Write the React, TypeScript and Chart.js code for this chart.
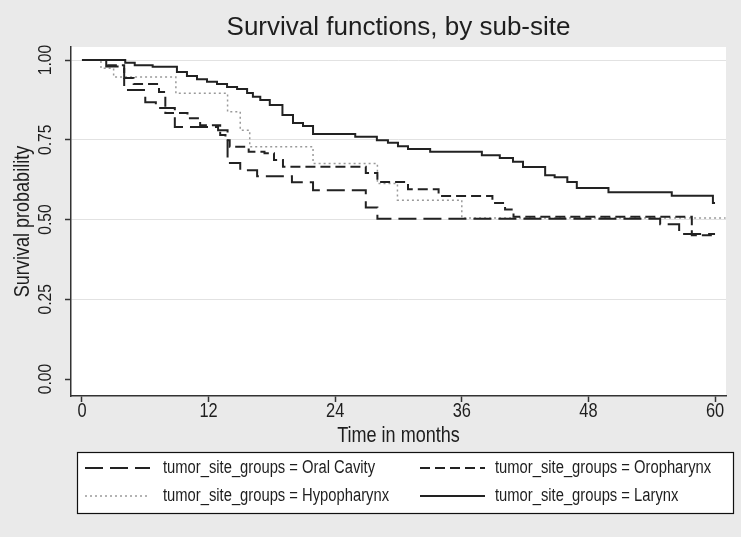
import React, { useEffect, useRef } from "react";
import { Chart, registerables } from "chart.js";

Chart.register(...registerables);

const chartTitle = "Survival functions, by sub-site";
const xTitle = "Time in months";
const yTitle = "Survival probability";
const xTickValues = [0, 12, 24, 36, 48, 60];
const yTickValues = [0, 0.25, 0.5, 0.75, 1.0];

const seriesNames = [
  "tumor_site_groups = Oral Cavity",
  "tumor_site_groups = Oropharynx",
  "tumor_site_groups = Hypopharynx",
  "tumor_site_groups = Larynx",
];

const oralTimes = [0, 2.3, 4.0, 6.0, 7.0, 8.8, 12.9, 13.8, 15.0, 16.6, 19.9, 21.9, 26.9, 28.0, 54.8, 56.6, 60];
const oralSurv = [1, 0.98, 0.906, 0.868, 0.85, 0.79, 0.78, 0.677, 0.655, 0.636, 0.617, 0.592, 0.538, 0.503, 0.485, 0.455, 0.455];

const oroTimes = [0, 2.4, 4.0, 4.9, 7.3, 7.9, 10.0, 11.2, 13.1, 13.6, 14.0, 15.8, 17.3, 18.2, 19.05, 26.9, 28.0, 30.9, 33.8, 38.9, 40.1, 40.9, 57.8, 60];
const oroSurv = [1, 0.984, 0.944, 0.925, 0.9, 0.834, 0.818, 0.796, 0.765, 0.749, 0.728, 0.713, 0.708, 0.687, 0.666, 0.646, 0.618, 0.595, 0.574, 0.552, 0.532, 0.509, 0.451, 0.451];

const hypoTimes = [0, 1.8, 3.0, 8.9, 13.8, 15.0, 15.9, 21.9, 28.0, 29.9, 36.0, 61];
const hypoSurv = [1, 0.974, 0.947, 0.896, 0.838, 0.78, 0.728, 0.676, 0.613, 0.561, 0.505, 0.505];

const larynxTimes = [0, 4.1, 5.0, 6.7, 9.0, 9.95, 10.9, 11.85, 12.8, 13.75, 14.7, 15.65, 16.2, 16.9, 17.8, 19.0, 20.0, 20.95, 21.9, 25.9, 27.95, 29.0, 29.95, 30.9, 33.0, 37.9, 39.6, 40.85, 41.8, 43.9, 44.8, 46.0, 46.9, 49.9, 55.9, 59.8, 60];
const larynxSurv = [1, 0.992, 0.984, 0.979, 0.963, 0.95, 0.94, 0.932, 0.925, 0.916, 0.909, 0.897, 0.885, 0.875, 0.859, 0.828, 0.803, 0.793, 0.768, 0.76, 0.749, 0.741, 0.73, 0.721, 0.713, 0.702, 0.693, 0.681, 0.665, 0.639, 0.633, 0.618, 0.599, 0.586, 0.575, 0.552, 0.552];

const FONT = "'Liberation Sans', Arial, sans-serif";
const NARROW_SCALE = 0.82;
const BG = "#eaeaea";
const INK = "#1e1e1e";

const styles = [
  { color: "#222222", width: 2, dash: [18, 7] },
  { color: "#222222", width: 2, dash: [10, 5] },
  { color: "#9a9a9a", width: 1.5, dash: [2, 3] },
  { color: "#222222", width: 2, dash: [] as number[] },
];

const toPoints = (t: number[], s: number[]) => t.map((x, i) => ({ x, y: s[i] }));

function narrowText(ctx: CanvasRenderingContext2D, text: string, x: number, y: number, size: number, align: CanvasTextAlign, rot = 0) {
  ctx.save();
  ctx.translate(x, y);
  if (rot) ctx.rotate(rot);
  ctx.scale(NARROW_SCALE, 1);
  ctx.font = `${size}px ${FONT}`;
  ctx.textAlign = align;
  ctx.textBaseline = "middle";
  ctx.fillStyle = INK;
  ctx.fillText(text, 0, 0);
  ctx.restore();
}

const decorPlugin = {
  id: "decor",
  beforeDraw(chart: any) {
    const { ctx, chartArea } = chart;
    ctx.save();
    ctx.fillStyle = BG;
    ctx.fillRect(0, 0, chart.width, chart.height);
    ctx.fillStyle = "#ffffff";
    ctx.fillRect(chartArea.left, chartArea.top, chartArea.right - chartArea.left, chartArea.bottom - chartArea.top);
    ctx.restore();
  },
  afterDraw(chart: any) {
    const { ctx, chartArea } = chart;
    const yScale = chart.scales.y;
    const xScale = chart.scales.x;
    const cx = (chartArea.left + chartArea.right) / 2;
    const cy = (chartArea.top + chartArea.bottom) / 2;
    ctx.save();
    // title
    ctx.fillStyle = INK;
    ctx.font = `26px ${FONT}`;
    ctx.textAlign = "center";
    ctx.textBaseline = "middle";
    ctx.fillText(chartTitle, cx, 28);
    // y tick labels (rotated)
    yScale.ticks.forEach((t: any) => {
      const py = yScale.getPixelForValue(t.value);
      narrowText(ctx, Number(t.value).toFixed(2), chartArea.left - 25, py, 19, "center", -Math.PI / 2);
    });
    // x tick labels
    xScale.ticks.forEach((t: any) => {
      const px = xScale.getPixelForValue(t.value);
      narrowText(ctx, String(t.value), px, chartArea.bottom + 15, 20, "center");
    });
    // axis titles
    narrowText(ctx, xTitle, cx, chartArea.bottom + 40, 22, "center");
    narrowText(ctx, yTitle, 23, cy, 22, "center", -Math.PI / 2);
    // legend
    const bx = 77.5, by = 452.5, bw = 656, bh = 61;
    ctx.fillStyle = "#ffffff";
    ctx.fillRect(bx, by, bw, bh);
    ctx.strokeStyle = "#111";
    ctx.lineWidth = 1.2;
    ctx.strokeRect(bx, by, bw, bh);
    const cells = [
      { x: 85, y: 468 },
      { x: 420, y: 468 },
      { x: 85, y: 496 },
      { x: 420, y: 496 },
    ];
    cells.forEach((c, i) => {
      const st = styles[i];
      ctx.save();
      ctx.strokeStyle = st.color;
      ctx.lineWidth = st.width;
      ctx.setLineDash(st.dash);
      ctx.beginPath();
      ctx.moveTo(c.x, c.y);
      ctx.lineTo(c.x + 65, c.y);
      ctx.stroke();
      ctx.restore();
      narrowText(ctx, seriesNames[i], c.x + (i % 2 === 0 ? 78 : 75), c.y, 18, "left");
    });
    ctx.restore();
  },
};

export default function App() {
  const ref = useRef<HTMLCanvasElement | null>(null);
  useEffect(() => {
    if (!ref.current) return;
    const data = [
      toPoints(oralTimes, oralSurv),
      toPoints(oroTimes, oroSurv),
      toPoints(hypoTimes, hypoSurv),
      toPoints(larynxTimes, larynxSurv),
    ];
    const chart = new Chart(ref.current, {
      type: "line",
      data: {
        datasets: data.map((d, i) => ({
          label: seriesNames[i],
          data: d,
          stepped: "before" as const,
          borderColor: styles[i].color,
          borderWidth: styles[i].width,
          borderDash: styles[i].dash,
          pointRadius: 0,
          fill: false,
          tension: 0,
        })),
      },
      options: {
        animation: false,
        responsive: false,
        devicePixelRatio: 1,
        layout: { padding: { top: 47, right: 15, bottom: 86, left: 0 } },
        plugins: { legend: { display: false }, title: { display: false }, tooltip: { enabled: false } },
        scales: {
          x: {
            type: "linear",
            min: -1.04,
            max: 61.04,
            afterBuildTicks: (s: any) => {
              s.ticks = xTickValues.map((v) => ({ value: v }));
            },
            afterFit: (s: any) => {
              s.height = 55;
            },
            ticks: { display: false },
            grid: {
              display: true,
              drawOnChartArea: false,
              drawTicks: true,
              tickLength: 6,
              tickColor: "#333",
              tickWidth: 1.5,
            },
            border: { display: true, color: "#333", width: 1.5 },
            title: { display: false },
          },
          y: {
            type: "linear",
            min: -0.053,
            max: 1.041,
            afterBuildTicks: (s: any) => {
              s.ticks = yTickValues.map((v) => ({ value: v }));
            },
            afterFit: (s: any) => {
              s.width = 71;
            },
            ticks: { display: false },
            grid: {
              display: true,
              drawOnChartArea: true,
              drawTicks: true,
              tickLength: 6,
              color: (c: any) => (c.tick && c.tick.value === 0 ? "rgba(0,0,0,0)" : "#e2e2e2"),
              lineWidth: 1,
              tickColor: "#333",
              tickWidth: 1.5,
            },
            border: { display: true, color: "#333", width: 1.5 },
            title: { display: false },
          },
        },
      },
      plugins: [decorPlugin],
    });
    return () => chart.destroy();
  }, []);
  return (
    <div style={{ position: "absolute", left: 0, top: 0, width: 741, height: 537, background: BG }}>
      <canvas ref={ref} width={741} height={537} style={{ display: "block" }} />
    </div>
  );
}
